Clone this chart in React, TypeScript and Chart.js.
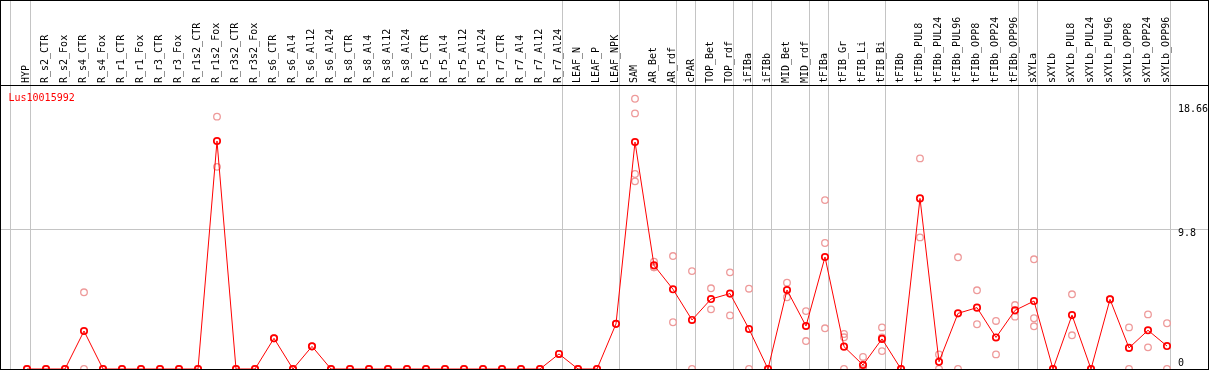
import React, { useEffect, useRef } from "react";
import { Chart, registerables } from "chart.js";

Chart.register(...registerables);

const geneName = "Lus10015992";

const categories = [
  "HYP", "R_s2_CTR", "R_s2_Fox", "R_s4_CTR", "R_s4_Fox", "R_r1_CTR", "R_r1_Fox",
  "R_r3_CTR", "R_r3_Fox", "R_r1s2_CTR", "R_r1s2_Fox", "R_r3s2_CTR", "R_r3s2_Fox",
  "R_s6_CTR", "R_s6_Al4", "R_s6_Al12", "R_s6_Al24", "R_s8_CTR", "R_s8_Al4",
  "R_s8_Al12", "R_s8_Al24", "R_r5_CTR", "R_r5_Al4", "R_r5_Al12", "R_r5_Al24",
  "R_r7_CTR", "R_r7_Al4", "R_r7_Al12", "R_r7_Al24", "LEAF_N", "LEAF_P", "LEAF_NPK",
  "SAM", "AR_Bet", "AR_rdf", "cPAR", "TOP_Bet", "TOP_rdf", "iFIBa", "iFIBb",
  "MID_Bet", "MID_rdf", "tFIBa", "tFIB_Gr", "tFIB_Li", "tFIB_Bi", "tFIBb",
  "tFIBb_PUL8", "tFIBb_PUL24", "tFIBb_PUL96", "tFIBb_OPP8", "tFIBb_OPP24",
  "tFIBb_OPP96", "sXYLa", "sXYLb", "sXYLb_PUL8", "sXYLb_PUL24", "sXYLb_PUL96",
  "sXYLb_OPP8", "sXYLb_OPP24", "sXYLb_OPP96",
];

const meanValues = [
  0, 0, 0, 2.65, 0, 0, 0, 0, 0, 0, 15.9, 0, 0,
  2.14, 0, 1.58, 0, 0, 0, 0, 0, 0, 0, 0, 0, 0, 0, 0, 1.05, 0, 0, 3.15,
  15.83, 7.23, 5.56, 3.42, 4.88, 5.26, 2.79, 0, 5.51, 3.0, 7.81, 1.56, 0.28, 2.1, 0,
  11.9, 0.5, 3.88, 4.28, 2.2, 4.09, 4.74, 0, 3.76, 0, 4.86, 1.47, 2.7, 1.6,
];

const replicateValues: number[][] = [
  [0, 0], [0, 0], [0, 0], [5.35, 0], [0, 0], [0, 0], [0, 0], [0, 0], [0, 0], [0, 0],
  [17.6, 14.1], [0, 0], [0, 0], [2.14, 2.14], [0, 0], [1.58, 1.58], [0, 0], [0, 0],
  [0, 0], [0, 0], [0, 0], [0, 0], [0, 0], [0, 0], [0, 0], [0, 0], [0, 0], [0, 0],
  [1.05, 1.05], [0, 0], [0, 0], [3.15, 3.15],
  [18.85, 17.83, 13.6, 13.09], [7.48, 7.09, 7.1], [7.88, 3.26], [6.83, 0],
  [5.63, 4.16], [6.74, 3.74], [5.6, 0], [0, 0], [6.02, 5.0], [4.04, 1.95],
  [11.78, 8.79, 2.84], [2.44, 2.21, 0], [0.84, 0, 0], [2.9, 2.2, 1.25], [0, 0],
  [14.69, 9.18], [1.02, 0], [7.79, 0], [5.49, 3.12], [3.35, 1.02], [4.46, 3.65],
  [7.65, 3.54, 2.98], [0, 0], [5.21, 2.35], [0, 0], [4.86, 4.86], [2.9, 0],
  [3.81, 1.51], [3.19, 0],
];

// group separators: after these category indices
const separatorAfter = [0, 28, 31, 34, 35, 37, 38, 39, 41, 42, 45, 52, 53, 60];
const groupStart = -0.9;

const yTickValues = [18.66, 9.8, 0];
const yTickLabels = ["18.66", "9.8", "0"];
const yTickOffsets = [10.5, 7.5, -3];
const gridValues = [9.8];

const yMax = 19.6;
const xMin = -25 / 19;
const xMax = 60 + 4 / 19;

const MONO = "10px 'DejaVu Sans Mono', monospace";

const overlayPlugin = {
  id: "overlay",
  beforeDatasetsDraw(chart: any) {
    const { ctx, width, height } = chart;
    const x = chart.scales.x;
    const y = chart.scales.y;
    ctx.save();
    ctx.fillStyle = "#c4c4c4";
    ctx.fillRect(Math.round(x.getPixelForValue(groupStart)), 0, 1, height);
    separatorAfter.forEach((i) => {
      ctx.fillRect(Math.round(x.getPixelForValue(i + 0.18)), 0, 1, height);
    });
    gridValues.forEach((v) => {
      ctx.fillRect(0, Math.round(y.getPixelForValue(v)), width, 1);
    });
    ctx.restore();
  },
  afterDraw(chart: any) {
    const { ctx, width, height } = chart;
    const x = chart.scales.x;
    const y = chart.scales.y;
    ctx.save();
    ctx.font = MONO;
    ctx.fillStyle = "#000";
    ctx.textAlign = "left";
    ctx.textBaseline = "alphabetic";
    categories.forEach((c, i) => {
      ctx.save();
      ctx.translate(x.getPixelForValue(i) + 2, 83);
      ctx.rotate(-Math.PI / 2);
      ctx.fillText(c, 0, 0);
      ctx.restore();
    });
    yTickValues.forEach((v, k) => {
      ctx.fillText(yTickLabels[k], 1178, y.getPixelForValue(v) + yTickOffsets[k]);
    });
    ctx.fillStyle = "#ff0000";
    ctx.fillText(geneName, 8.5, 101);
    ctx.fillStyle = "#000";
    ctx.fillRect(0, 0, width, 1);
    ctx.fillRect(0, 85, width, 1);
    ctx.fillRect(0, 0, 1, height);
    ctx.fillRect(width - 1, 0, 1, height);
    ctx.fillRect(0, height - 1, width, 1);
    ctx.restore();
  },
};

export default function App() {
  const ref = useRef<HTMLCanvasElement>(null);
  useEffect(() => {
    document.body.style.margin = "0";
    const canvas = ref.current;
    if (!canvas) return;
    const meanPoints = meanValues.map((v, i) => ({ x: i, y: v }));
    const repPoints: { x: number; y: number }[] = [];
    replicateValues.forEach((reps, i) => reps.forEach((v) => repPoints.push({ x: i, y: v })));
    const chart = new Chart(canvas, {
      type: "line",
      data: {
        datasets: [
          {
            data: meanPoints,
            borderColor: "#ff0000",
            borderWidth: 1,
            pointStyle: "circle",
            pointRadius: 3.2,
            pointBorderWidth: 1.7,
            pointBorderColor: "#ff0000",
            pointBackgroundColor: "rgba(0,0,0,0)",
            tension: 0,
            clip: false,
            order: 0,
          } as any,
          {
            data: repPoints,
            showLine: false,
            pointStyle: "circle",
            pointRadius: 3.3,
            pointBorderWidth: 1.3,
            pointBorderColor: "#ee9a9a",
            pointBackgroundColor: "rgba(0,0,0,0)",
            clip: false,
            order: 1,
          } as any,
        ],
      },
      options: {
        responsive: false,
        animation: false,
        devicePixelRatio: 1,
        events: [],
        layout: { autoPadding: false, padding: { left: 2, right: 38, top: 88, bottom: 1 } },
        scales: {
          x: { type: "linear", display: false, min: xMin, max: xMax },
          y: { type: "linear", display: false, min: 0, max: yMax },
        },
        plugins: { legend: { display: false }, tooltip: { enabled: false } },
      },
      plugins: [overlayPlugin],
    });
    return () => chart.destroy();
  }, []);
  return <canvas ref={ref} width={1209} height={370} style={{ display: "block" }} />;
}
